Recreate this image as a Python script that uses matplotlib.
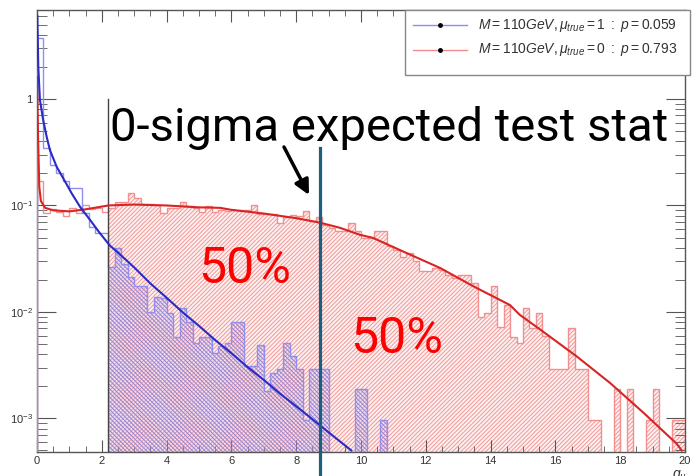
import numpy as np
import matplotlib
matplotlib.use("Agg")
import matplotlib.pyplot as plt
from matplotlib.lines import Line2D
from matplotlib.patches import Rectangle
from matplotlib.transforms import blended_transform_factory
from matplotlib.ticker import MultipleLocator, LogLocator, FixedLocator, FixedFormatter, NullFormatter

plt.rcParams['font.family'] = ['Liberation Sans', 'DejaVu Sans']
plt.rcParams['mathtext.fontset'] = 'custom'
plt.rcParams['mathtext.rm'] = 'Liberation Sans'
plt.rcParams['mathtext.it'] = 'Liberation Sans:italic'
plt.rcParams['mathtext.bf'] = 'Liberation Sans:bold'
plt.rcParams['hatch.linewidth'] = 0.7

# ---------------- data ----------------
bin_width = 0.2
n_bins = 100

red_hist = [
    0.17, 0.085, 0.092, 0.086, 0.079, 0.094, 0.085, 0.1, 0.092, 0.094, 0.087,
    0.095, 0.108, 0.108, 0.13, 0.118, 0.104, 0.104, 0.1, 0.085, 0.094, 0.094,
    0.108, 0.098, 0.095, 0.087, 0.098, 0.087, 0.09,
    0.088, 0.09, 0.09, 0.09, 0.1, 0.083, 0.083, 0.083, 0.068, 0.078, 0.082,
    0.08, 0.088, 0.072, 0.078, 0.066, 0.062, 0.057, 0.058, 0.068, 0.058,
    0.05, 0.05, 0.057, 0.057, 0.042, 0.038, 0.033, 0.036, 0.03, 0.024, 0.024,
    0.026, 0.025, 0.022, 0.021, 0.022, 0.022, 0.0186, 0.0089, 0.0098, 0.0174,
    0.0073, 0.0117,
    0.0058, 0.0051, 0.011, 0.0071, 0.0098, 0.006, 0.0029, 0.0029, 0.0029,
    0.0071, 0.0029, 0.0029, 0.00097, 0.00097, 0, 0, 0.0019, 0, 0.0019, 0, 0,
    0.00097, 0.0019, 0, 0, 0.00097, 0.00097,
]

blue_hist = [
    3.7, 0.35, 0.24, 0.2, 0.17, 0.146, 0.146, 0.085, 0.063, 0.055, 0.055,
    0.0266, 0.04, 0.028, 0.0215, 0.0174, 0.0174, 0.01, 0.0139, 0.0135, 0.0098,
    0.0058, 0.011, 0.0081, 0.0051, 0.0058, 0.0058, 0.0041, 0.0048,
    0.0051, 0.0081, 0.0081, 0.0031, 0.0031, 0.0049, 0.0018, 0.0027, 0.0029,
    0.0051, 0.0039, 0.0029, 0.00097, 0.0029, 0.0029, 0.0029, 0, 0, 0, 0, 0.0019,
    0.0019, 0, 0, 0.00097,
] + [0] * 46

blue_curve_q = [0.01, 0.04, 0.09, 0.19, 0.3, 0.4, 0.61, 0.81, 1.07, 1.33, 1.64,
                1.94, 2.25, 2.5, 3.0, 3.5, 4.0, 4.5, 5.0, 5.5, 6.0, 6.5, 7.0,
                7.5, 8.0, 8.6, 9.0, 9.5, 9.7]
blue_curve_v = [6.0, 2.0, 0.98, 0.635, 0.44, 0.33, 0.23, 0.18, 0.13, 0.097, 0.073,
                0.055, 0.042, 0.0361, 0.0262, 0.0185, 0.0136, 0.0099, 0.0074,
                0.00544, 0.0041, 0.00303, 0.0023, 0.00171, 0.0013, 0.00093,
                0.00074, 0.00056, 0.0005]

red_curve_q = [0.0, 0.03, 0.07, 0.12, 0.25, 0.5, 1.0, 1.5, 2.2, 3.0, 4.0, 5.0,
               5.65, 6.0, 7.0, 8.0, 8.73, 9.35, 9.97, 10.37, 11.41, 12.44, 13.47,
               14.6, 14.9, 15.6, 16.66, 17.69, 18.72, 19.74, 19.9]
red_curve_v = [1.6, 0.48, 0.15, 0.11, 0.095, 0.09, 0.088, 0.092, 0.1, 0.102, 0.1,
               0.096, 0.095, 0.091, 0.084, 0.076, 0.069, 0.0617, 0.053, 0.0496,
               0.0357, 0.0259, 0.0174, 0.0116, 0.0094, 0.0066, 0.00382, 0.00215,
               0.00113, 0.00058, 0.0005]

legend_labels = [r'$M = 110GeV, \mu_{true} = 1\ :\ p = 0.059$',
                 r'$M = 110GeV, \mu_{true} = 0\ :\ p = 0.793$']
x_ticks = [0, 2, 4, 6, 8, 10, 12, 14, 16, 18, 20]
y_ticks = [1e-3, 1e-2, 1e-1, 1]
y_ticklabels = [r'$10^{-3}$', r'$10^{-2}$', r'$10^{-1}$', '1']

cut_q = 2.2          # observed test-stat cut (black line)
cut_top = 1.0
expected_q = 8.73    # 0-sigma expected test stat
blue_fill_end = 54   # last hatched blue bin index (exclusive)

# ---------------- figure ----------------
W, H = 692, 476
fig = plt.figure(figsize=(W / 100, H / 100), dpi=100)
ax = fig.add_axes([37 / W, 24 / H, (685 - 37) / W, (466 - 24) / H])
ymin, ymax = 4.84e-4, 6.85
ax.set_xlim(0, 20)
ax.set_yscale('log')
ax.set_ylim(ymin, ymax)

edges = np.arange(n_bins + 1) * bin_width
red = np.array(red_hist, dtype=float)
blue = np.array(blue_hist, dtype=float)
red_d = np.where(red > 0, red, 1e-9)
blue_d = np.where(blue > 0, blue, 1e-9)

i0 = int(round(cut_q / bin_width))

# hatched regions
xr = edges[i0:]
yr = np.append(red_d[i0:], red_d[-1])
ax.fill_between(xr, yr, 1e-9, step='post', facecolor=(1.0, 0.94, 0.94),
                edgecolor='#ee9a9a', hatch='////////', linewidth=0, zorder=1)
xb = edges[i0:blue_fill_end + 1]
yb = np.append(blue_d[i0:blue_fill_end], blue_d[blue_fill_end - 1])
ax.fill_between(xb, yb, 1e-9, step='post', facecolor=(0.80, 0.70, 0.92, 0.25),
                edgecolor='#9080d0', hatch='\\\\\\\\\\\\\\\\', linewidth=0, zorder=2)

# histogram outlines
ax.stairs(red_d, edges, color='#f29090', lw=1.0, zorder=3)
ax.stairs(blue_d, edges, color='#8f8ff2', lw=1.0, zorder=3)

# curves
ax.plot(red_curve_q, red_curve_v, color='#d82424', lw=1.5, zorder=5)
ax.plot(blue_curve_q, blue_curve_v, color='#2a2ac4', lw=1.5, zorder=5)

# black cut line
ax.plot([cut_q, cut_q], [cut_top, ymin], color='#444444', lw=1.0, zorder=4)

# ticks
ax.xaxis.set_major_locator(FixedLocator(x_ticks))
ax.xaxis.set_minor_locator(MultipleLocator(0.5))
ax.yaxis.set_major_locator(FixedLocator(y_ticks))
ax.yaxis.set_major_formatter(FixedFormatter(y_ticklabels))
ax.yaxis.set_minor_locator(LogLocator(base=10, subs=np.arange(2, 10)))
ax.yaxis.set_minor_formatter(NullFormatter())
ax.tick_params(axis='both', which='both', direction='in', top=True, right=True,
               colors='#555555', labelcolor='#333333', labelsize=8)
ax.tick_params(axis='x', which='major', length=8.5, pad=3)
ax.tick_params(axis='x', which='minor', length=4.3)
ax.tick_params(axis='y', which='major', length=14, pad=3)
ax.tick_params(axis='y', which='minor', length=7)
for s in ax.spines.values():
    s.set_color('#555555')
    s.set_linewidth(1.0)

# x label (partly cut at the bottom edge, as in the reference)
fig.text(672 / W, -3 / H, r'$q_{\mu}$', fontsize=10, color='#333333',
         ha='left', va='baseline')

# legend box
fig.add_artist(Rectangle((405 / W, (H - 75) / H), (690 - 405) / W, 65 / H,
                         transform=fig.transFigure, facecolor='white',
                         edgecolor='#888888', lw=1.0, zorder=10))
for k, (lab, col) in enumerate(zip(legend_labels, ['#8c8cf0', '#f08c8c'])):
    yy = (H - (25 + 25 * k)) / H
    fig.add_artist(Line2D([413 / W, 467 / W], [yy, yy], transform=fig.transFigure,
                          color=col, lw=1.0, zorder=11))
    fig.add_artist(Line2D([440 / W], [yy], transform=fig.transFigure, marker='o',
                          markersize=2.5, color='black', zorder=12))
    fig.text(478 / W, yy, lab, fontsize=10, color='#333333', ha='left',
             va='center', zorder=12)

# annotations
bt = blended_transform_factory(ax.transData, fig.transFigure)
fig.add_artist(Line2D([expected_q, expected_q], [0, (H - 148) / H], transform=bt,
                      color='#1b5f7e', lw=2.3, zorder=20))
fig.text(110 / W, (H - 141) / H, '0-sigma expected test stat',
         fontfamily=['Roboto', 'DejaVu Sans'], fontsize=34, color='black',
         ha='left', va='baseline', zorder=21)
ax.annotate('', xy=(309, H - 195), xytext=(284, H - 147),
            xycoords='figure pixels', textcoords='figure pixels',
            arrowprops=dict(arrowstyle='-|>', lw=2.5, color='black',
                            mutation_scale=22, shrinkA=0, shrinkB=0),
            zorder=21)
fig.text(198 / W, (H - 283) / H, '50%', fontfamily=['Roboto', 'DejaVu Sans'],
         fontsize=36, color='#ff0000', ha='left', va='baseline', zorder=21)
fig.text(350 / W, (H - 353) / H, '50%', fontfamily=['Roboto', 'DejaVu Sans'],
         fontsize=36, color='#ff0000', ha='left', va='baseline', zorder=21)

fig.savefig('out.png', dpi=100)
